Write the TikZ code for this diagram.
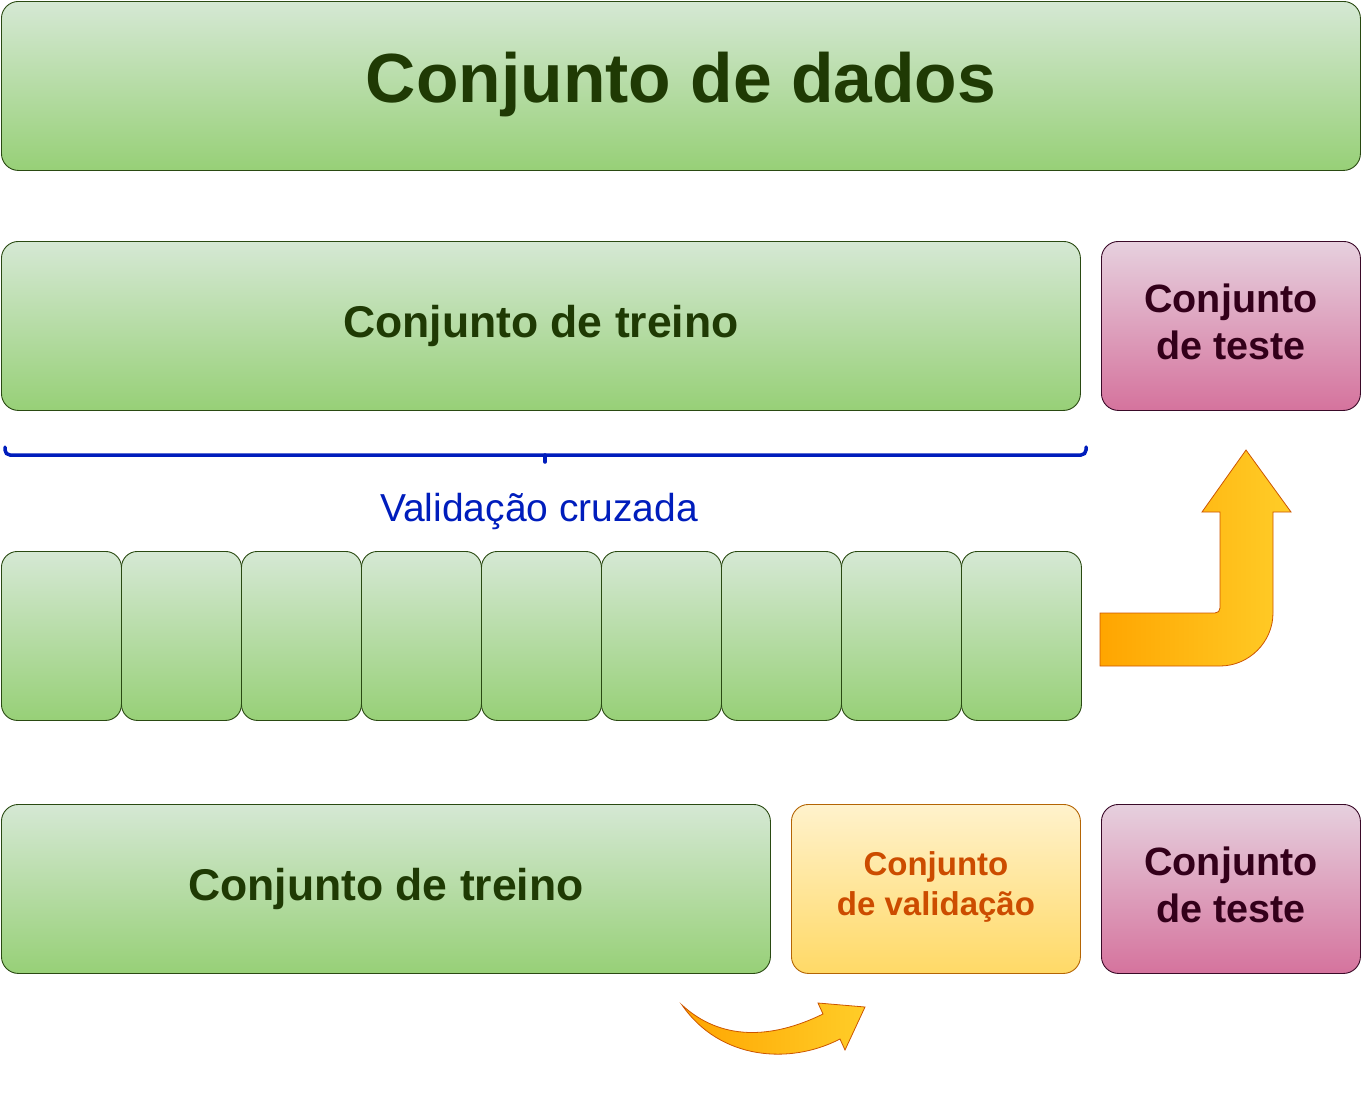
\documentclass[tikz,border=0pt]{standalone}
\usepackage{fontspec}
\setmainfont{Liberation Sans}
\definecolor{gtop}{HTML}{D5E8D4}
\definecolor{gbot}{HTML}{97D077}
\definecolor{gline}{HTML}{2A4A12}
\definecolor{gtext}{HTML}{1F3A04}
\definecolor{ptop}{HTML}{E6D0DE}
\definecolor{pbot}{HTML}{D5739D}
\definecolor{pline}{HTML}{3A0A28}
\definecolor{ptext}{HTML}{33001A}
\definecolor{ytop}{HTML}{FFF2CC}
\definecolor{ybot}{HTML}{FFD966}
\definecolor{yline}{HTML}{B46504}
\definecolor{ytext}{HTML}{CC4C00}
\definecolor{cvblue}{HTML}{001DBC}
\definecolor{aorange}{HTML}{FFA500}
\definecolor{ayellow}{HTML}{FFCD28}
\definecolor{aline}{HTML}{CC5500}
\tikzset{
  box/.style={anchor=north west, inner sep=0pt, rounded corners=17pt, line width=0.9pt, align=center},
  greenbox/.style={box, draw=gline, top color=gtop, bottom color=gbot, text=gtext, font=\bfseries},
  pinkbox/.style={box, draw=pline, top color=ptop, bottom color=pbot, text=ptext, text depth=9pt, font=\bfseries\fontsize{39.5}{47}\selectfont},
  yellowbox/.style={box, draw=yline, top color=ytop, bottom color=ybot, text=ytext, font=\bfseries\fontsize{33}{40}\selectfont},
  foldbox/.style={anchor=north west, inner sep=0pt, rounded corners=16pt, line width=0.9pt, draw=gline, top color=gtop, bottom color=gbot, minimum width=120pt, minimum height=169pt},
  bigarrow/.style={draw=aline, line width=0.8pt, left color=aorange, right color=ayellow},
  bracestyle/.style={draw=cvblue, line width=3.5pt, line cap=round}
}
\begin{document}
\begin{tikzpicture}[x=1pt, y=-1pt]
\useasboundingbox (0,0) rectangle (1361,1111);
% row 1
\node[greenbox, minimum width=1359pt, minimum height=169pt, text depth=18pt, font=\bfseries\fontsize{69.6}{80}\selectfont] (dados) at (1,1) {Conjunto de dados};
% row 2
\node[greenbox, minimum width=1079pt, minimum height=169pt, font=\bfseries\fontsize{44.5}{52}\selectfont] (treino1) at (1,241) {Conjunto de treino};
\node[pinkbox, minimum width=259pt, minimum height=169pt] (teste1) at (1101,241) {Conjunto\\de teste};
% brace
\draw[bracestyle, rounded corners=5pt] (5,447) |- (545,455);
\draw[bracestyle, rounded corners=5pt] (545,455) -| (1086,447);
\draw[bracestyle] (545,455) -- (545,462);
\node[text=cvblue, font=\fontsize{39}{46}\selectfont, anchor=base] (cv) at (539,521) {Validação cruzada};
% folds
\foreach \i in {0,...,8}{
  \node[foldbox] (f\i) at ({1+120*\i},551) {};
}
% L arrow
\path[bigarrow] (1100,613) -- (1215,613) .. controls (1218,613) and (1220,611) .. (1220,608)
  -- (1220,512) -- (1202,512) -- (1246,450) -- (1291,512) -- (1273,512) -- (1273,613)
  .. controls (1273,642) and (1249,666) .. (1220,666) -- (1100,666) -- cycle;
% row 4
\node[greenbox, minimum width=769pt, minimum height=169pt, font=\bfseries\fontsize{44.5}{52}\selectfont] (treino2) at (1,804) {Conjunto de treino};
\node[yellowbox, minimum width=289pt, minimum height=169pt, text depth=11pt] (valid) at (791,804) {Conjunto\\de validação};
\node[pinkbox, minimum width=259pt, minimum height=169pt] (teste2) at (1101,804) {Conjunto\\de teste};
% curved arrow
\path[bigarrow] (682,1005) .. controls (720,1040) and (770,1040) .. (823,1014)
  -- (818,1003) -- (865,1007) -- (845,1050) -- (840,1039)
  .. controls (790,1065) and (720,1060) .. (682,1005) -- cycle;
\end{tikzpicture}
\end{document}
